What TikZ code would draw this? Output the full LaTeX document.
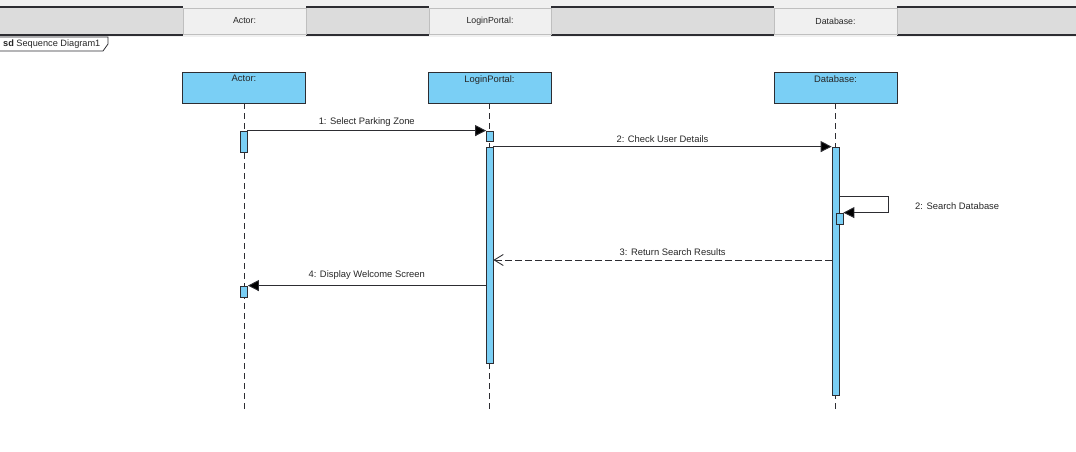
\documentclass[tikz,border=0pt]{standalone}
\usepackage{fontspec}
\setmainfont{Liberation Sans}
\usetikzlibrary{arrows.meta,calc}
\definecolor{lifeblue}{RGB}{122,207,245}
\definecolor{barlight}{RGB}{240,240,240}
\definecolor{bardark}{RGB}{220,220,220}
\definecolor{edgegray}{RGB}{45,45,50}
\tikzset{
  lbl/.style={font=\fontsize{9.4}{11}\selectfont, text=black!85, inner sep=1pt},
  part/.style={draw=edgegray, line width=0.9pt, fill=lifeblue, minimum width=123pt, minimum height=31pt, inner sep=0pt},
  act/.style={draw=edgegray, line width=0.8pt, fill=lifeblue, minimum width=7pt, inner sep=0pt},
  lifeline/.style={draw=edgegray, line width=0.9pt, dash pattern=on 6pt off 4pt},
  msg/.style={draw=edgegray, line width=0.9pt, -{Triangle[length=11pt,width=11pt,fill=black]}},
  ret/.style={draw=edgegray, line width=0.9pt, dash pattern=on 7pt off 3pt, -{Straight Barb[length=9pt,width=11pt]}},
}

\begin{document}
\begin{tikzpicture}[x=1pt,y=-1pt]
    \useasboundingbox (0,0) rectangle (1076,452); % same size as the page

    % header bar on top
    \fill[barlight] (0,0) rectangle (1076,37);
    \foreach \a/\b in {0/183,306/429,551/774,897/1076}{
        \fill[bardark] (\a,7) rectangle (\b,35);
        \draw[edgegray, line width=1.2pt] (\a,7) -- (\b,7) (\a,35) -- (\b,35);
    }
    \foreach \a/\b/\t [count=\i] in {183/306/Actor:,429/551/LoginPortal:,774/897/Database:}{
        \draw[fill=barlight, draw=black!25] (\a,8) rectangle (\b,34);
        \node[lbl, font=\fontsize{8.8}{10}\selectfont] (head\i) at ({(\a+\b)/2},21) {\t};
    }

    % frame tab
    \draw[edgegray, fill=white, line width=0.8pt] (0,37) -- (108,37) -- (108,44) -- (103,51) -- (0,51);
    \node[lbl, anchor=west, font=\fontsize{9.2}{11}\selectfont] (sdtab) at (2,44) {\textbf{sd} Sequence Diagram1};

    % participants
    \node[part] (actor) at (244,87.5) {};
    \node[part] (portal) at (489.5,87.5) {};
    \node[part] (db) at (835.5,87.5) {};
    \path (actor.north) node[lbl, below=2.5pt] (actorName) {Actor:};
    \path (portal.north) node[lbl, below=2.5pt] (portalName) {LoginPortal:};
    \path (db.north) node[lbl, below=2.5pt] (dbName) {Database:};

    \coordinate (bottom) at (0,410);
    \foreach \p in {actor,portal,db}{
        \draw[lifeline] (\p.south) -- (\p.south |- bottom);
    }

    % activations
    \node[act, minimum height=21pt] (aAct1) at (243.5,141.5) {};
    \node[act, minimum height=10pt] (pAct1) at (490,136) {};
    \node[act, minimum height=216pt] (pAct2) at (489.5,255) {};
    \node[act, minimum height=248pt] (dAct1) at (835.5,271) {};
    \node[act, minimum height=11pt] (dAct2) at (839.5,218.5) {};
    \node[act, minimum height=11pt] (aAct2) at (244,291.5) {};

    % messages
    \draw[msg] (aAct1.north east) -- (pAct1.north west)
        node[lbl, midway, above=3pt] (m1) {1: Select Parking Zone};
    \draw[msg] (pAct2.north east) -- (dAct1.north west)
        node[lbl, midway, above=3pt] (m2) {2: Check User Details};

    \coordinate (selfA) at (dAct1.east |- 0,196);
    \draw[msg] (selfA) -- ++(49,0) |- (dAct2.north east);
    \node[lbl, anchor=west] (m2b) at (914,206) {2: Search Database};

    \coordinate (retA) at (dAct1.west |- 0,260);
    \draw[ret] (retA) -- (retA -| pAct2.east)
        node[lbl, pos=0.47, above=3pt] (m3) {3: Return Search Results};

    \draw[msg] (pAct2.west |- aAct2.north) -- (aAct2.north east)
        node[lbl, midway, above=5pt] (m4) {4: Display Welcome Screen};
\end{tikzpicture}
\end{document}
